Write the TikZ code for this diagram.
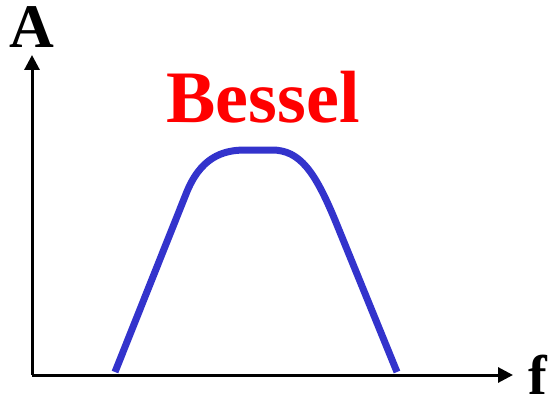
\documentclass[tikz,border=0pt]{standalone}
\usepackage{fontspec}
\setmainfont{Liberation Serif}
\usetikzlibrary{arrows.meta}
\definecolor{besselblue}{HTML}{3333CC}
\definecolor{besselred}{HTML}{FF0000}

\begin{document}
\begin{tikzpicture}[
  x=1pt,y=-1pt,
  lbl/.style={font=\bfseries,inner sep=0pt,anchor=base},
  ax/.style={line width=3pt,-{Triangle[length=15pt,width=15pt]}},
  resp/.style={line width=7pt,besselblue,line join=round}]
\useasboundingbox (0,0) rectangle (552,404);
\coordinate (o) at (32,375);
\coordinate (ytip) at (32,55);
\coordinate (xtip) at (513,375);
\node[lbl,font=\fontsize{62}{62}\bfseries\selectfont] (alabel) at (32,48) {A};
\node[lbl,font=\fontsize{56}{56}\bfseries\selectfont] (flabel) at (538,394) {f};
\node[lbl,font=\fontsize{74}{74}\bfseries\selectfont,text=besselred] (title) at (263,122) {Bessel};
\draw[ax] (o) -- (ytip);
\draw[ax] (o) -- (xtip);
% band-pass response
\draw[resp] (115,372) -- (186,194) .. controls (200,158) and (222,150) .. (245,150)
  -- (272,150) .. controls (300,150) and (315,172) .. (335,220) -- (397,372);
\end{tikzpicture}
\end{document}
